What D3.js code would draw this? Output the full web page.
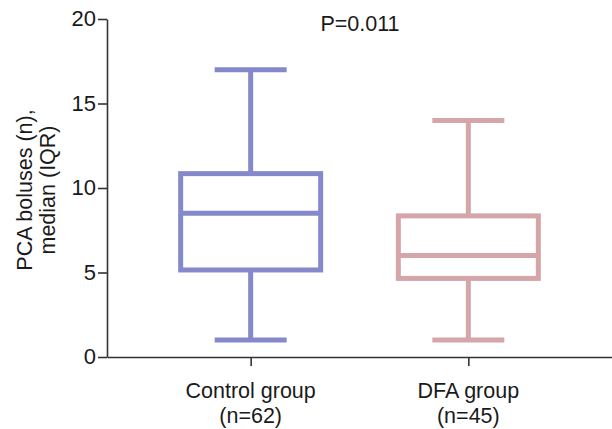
<!DOCTYPE html>
<html>
<head>
<meta charset="utf-8">
<script src="https://cdn.jsdelivr.net/npm/d3@7"></script>
<style>
  body { margin: 0; background: #fff; }
  text { font-family: "Liberation Sans", Arial, sans-serif; fill: #1a1a1a; }
</style>
</head>
<body>
<div id="plot"></div>
<script>
// data
var groups = ["Control group", "DFA group"];
var groupN = ["(n=62)", "(n=45)"];
var mins = [1, 1];
var q1s = [5.15, 4.65];
var medians = [8.5, 6];
var q3s = [10.85, 8.35];
var maxs = [17, 14];
var colors = ["#8589cc", "#d4a6a9"];
var yTicks = [0, 5, 10, 15, 20];

var svgWidth = 612;
var svgHeight = 429;

var svg = d3.select("#plot")
  .append("svg")
  .attr("width", svgWidth)
  .attr("height", svgHeight);

var axisX = 107, axisY = 357;

var xScale = d3.scalePoint()
  .domain(groups)
  .range([axisX, svgWidth])
  .padding(0.66);

var yScale = d3.scaleLinear()
  .domain([0, 20])
  .range([axisY, 19]);

var boxHalf = 70;
var capHalf = 36;

// y axis
var leftAxis = d3.axisLeft(yScale).tickValues(yTicks).tickSize(9).tickSizeOuter(0).tickPadding(2);
var yG = svg.append("g")
  .attr("transform", `translate(${axisX},0)`)
  .call(leftAxis);
yG.select(".domain").attr("stroke", "#333").attr("stroke-width", 1.6);
yG.selectAll(".tick line").attr("stroke", "#333").attr("stroke-width", 1.6);
yG.selectAll(".tick text")
  .attr("font-size", "22px")
  .attr("dy", "0.3em")
  .attr("fill", "#1a1a1a")
  .style("font-family", "Liberation Sans, Arial, sans-serif");

// x axis
var bottomAxis = d3.axisBottom(xScale).tickSize(9).tickSizeOuter(0).tickFormat("");
var xG = svg.append("g")
  .attr("transform", `translate(0,${axisY})`)
  .call(bottomAxis);
xG.select(".domain").attr("stroke", "#333").attr("stroke-width", 1.6);
xG.selectAll(".tick line").attr("stroke", "#333").attr("stroke-width", 1.6);

// category labels
groups.forEach(function(g, i) {
  var t = svg.append("text")
    .attr("x", xScale(g))
    .attr("y", 398)
    .attr("text-anchor", "middle")
    .attr("font-size", "21.5px");
  t.append("tspan").attr("x", xScale(g)).text(g);
  t.append("tspan").attr("x", xScale(g)).attr("dy", 25).text(groupN[i]);
});

// boxes
groups.forEach(function(g, i) {
  var cx = xScale(g);
  var grp = svg.append("g")
    .attr("stroke", colors[i])
    .attr("stroke-width", 5)
    .attr("fill", "none");
  // whiskers
  grp.append("line")
    .attr("x1", cx).attr("x2", cx)
    .attr("y1", yScale(maxs[i])).attr("y2", yScale(q3s[i]));
  grp.append("line")
    .attr("x1", cx).attr("x2", cx)
    .attr("y1", yScale(q1s[i])).attr("y2", yScale(mins[i]));
  // caps
  grp.append("line")
    .attr("x1", cx - capHalf).attr("x2", cx + capHalf)
    .attr("y1", yScale(maxs[i])).attr("y2", yScale(maxs[i]));
  grp.append("line")
    .attr("x1", cx - capHalf).attr("x2", cx + capHalf)
    .attr("y1", yScale(mins[i])).attr("y2", yScale(mins[i]));
  // box
  grp.append("rect")
    .attr("x", cx - boxHalf)
    .attr("width", boxHalf * 2)
    .attr("y", yScale(q3s[i]))
    .attr("height", yScale(q1s[i]) - yScale(q3s[i]));
  // median
  grp.append("line")
    .attr("x1", cx - boxHalf).attr("x2", cx + boxHalf)
    .attr("y1", yScale(medians[i])).attr("y2", yScale(medians[i]));
});

// y label
var yl = svg.append("text")
  .attr("transform", "translate(32,190) rotate(-90)")
  .attr("text-anchor", "middle")
  .attr("font-size", "21.5px");
yl.append("tspan").attr("x", 0).text("PCA boluses (n),");
yl.append("tspan").attr("x", 0).attr("dy", 23).text("median (IQR)");

// p value
svg.append("text")
  .attr("x", 360)
  .attr("y", 31)
  .attr("text-anchor", "middle")
  .attr("font-size", "21.5px")
  .text("P=0.011");
</script>
</body>
</html>
